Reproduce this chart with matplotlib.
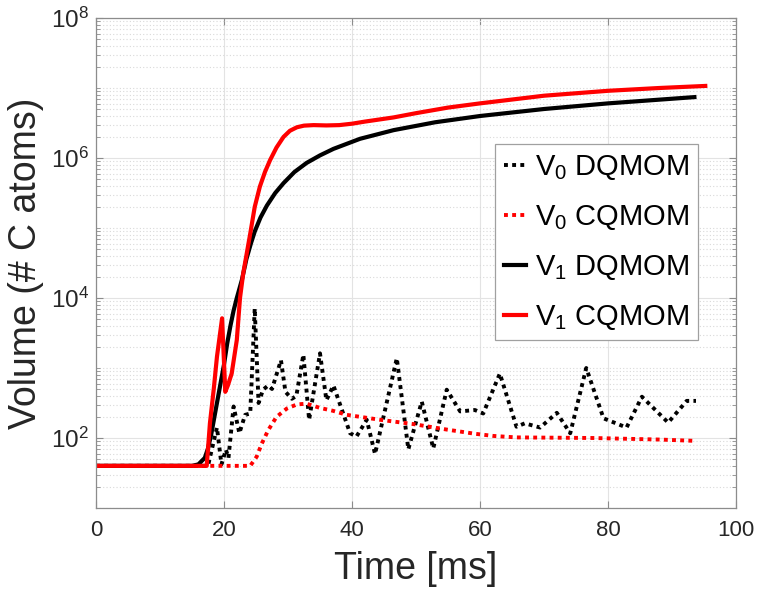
import numpy as np
import matplotlib
matplotlib.use("Agg")
import matplotlib.pyplot as plt
from matplotlib.ticker import LogLocator, FixedLocator, NullFormatter, LogFormatterMathtext

plt.rcParams['font.family'] = ['Liberation Sans', 'DejaVu Sans']
plt.rcParams['mathtext.fontset'] = 'custom'
plt.rcParams['mathtext.rm'] = 'Liberation Sans'
plt.rcParams['mathtext.it'] = 'Liberation Sans:italic'
plt.rcParams['mathtext.default'] = 'regular'

# ---- data ----
# V0 DQMOM (black dotted)
t_v0_dq = [0, 17.5, 18.9, 19.6, 20.3, 20.7, 21.5, 22.4, 23.3, 24.1, 24.8, 25.4, 26.1, 26.9,
           27.5, 28.9, 29.6, 30.6, 31.3, 32.4, 33.3, 35.0, 36.0, 37.1, 39.7, 40.7, 42.3,
           43.6, 47.0, 48.8, 50.9, 52.7, 54.8, 56.9, 59.2, 60.5, 63.1, 65.7, 67.0, 69.4,
           72.0, 74.1, 76.6, 79.3, 82.9, 85.3, 89.4, 92.3, 93.75]
v0_dq = [40, 40, 141, 42, 68, 52, 282, 117, 214, 224, 7080, 316, 490, 562,
         501, 1290, 457, 363, 398, 1550, 182, 1620, 347, 562, 117, 105, 182,
         59, 1380, 69, 331, 71, 490, 240, 251, 224, 832, 145, 162, 141,
         229, 117, 1000, 191, 141, 389, 166, 339, 339]

# V0 CQMOM (red dotted)
t_v0_cq = [0, 24.1, 25.1, 25.9, 26.9, 28.2, 29.8, 31.4, 32.9, 35.0, 37.0, 39.2, 44.4,
           49.6, 54.8, 59.2, 62.1, 65.7, 77.7, 88.1, 93.6]
v0_cq = [40, 40, 54, 83, 129, 200, 263, 302, 309, 269, 245, 214, 182,
         158, 132, 115, 107, 102, 100, 95, 91]

# V1 DQMOM (black solid)
t_v1_dq = [0, 15, 16, 17, 17.5, 18, 18.5, 19, 19.5, 20, 20.5, 21, 21.5, 22, 22.8, 23.5,
           24.2, 24.8, 25.7, 26.7, 28, 29.3, 31, 32.9, 35, 37.1, 41.25, 46.5, 53, 60,
           70, 80, 93.5]
v1_dq = [40, 40, 42, 52, 71, 112, 200, 355, 631, 1120, 2240, 3980, 6610, 10000, 18200, 36000,
         60000, 89000, 141000, 209000, 316000, 437000, 630000, 850000, 1.09e6, 1.35e6,
         1.88e6, 2.5e6, 3.24e6, 3.98e6, 5.01e6, 6.03e6, 7.41e6]

# V1 CQMOM (red solid)
t_v1_cq = [0, 17.3, 17.8, 18.4, 18.9, 19.7, 20.2, 20.6, 21.2, 22, 22.5, 23, 24.1, 24.8,
           25.6, 26.4, 27.2, 28.2, 29.3, 30.3, 31.4, 32.5, 34, 36, 38, 40, 42, 46.5, 50,
           55, 60, 70, 80, 88, 95.2]
v1_cq = [40, 40, 162, 501, 1450, 5130, 457, 562, 832, 2510, 10000, 22400, 83200, 200000,
         389000, 631000, 933000, 1.41e6, 2.0e6, 2.45e6, 2.75e6, 2.9e6, 2.95e6, 2.92e6,
         2.95e6, 3.09e6, 3.31e6, 3.8e6, 4.37e6, 5.25e6, 6.03e6, 7.76e6, 9.12e6, 1.0e7, 1.07e7]

labels = ['V$_0$ DQMOM', 'V$_0$ CQMOM', 'V$_1$ DQMOM', 'V$_1$ CQMOM']

# ---- figure ----
fig = plt.figure(figsize=(7.6, 5.92), dpi=100)
ax = fig.add_axes([96/760, 1 - 508/592, 640/760, 490/592])

dot = (0, (1, 1.1))
ax.plot(t_v0_dq, v0_dq, color='k', lw=2.8, ls=dot, dash_capstyle='butt', label=labels[0])
ax.plot(t_v0_cq, v0_cq, color='#ff0000', lw=2.8, ls=dot, dash_capstyle='butt', label=labels[1])
ax.plot(t_v1_dq, v1_dq, color='k', lw=3, label=labels[2])
ax.plot(t_v1_cq, v1_cq, color='#ff0000', lw=3, label=labels[3])

ax.set_yscale('log')
ax.set_xlim(0, 100)
ax.set_ylim(1e1, 1e8)
ax.set_xticks([0, 20, 40, 60, 80, 100])
ax.yaxis.set_major_locator(FixedLocator([1e2, 1e4, 1e6, 1e8]))
ax.yaxis.set_major_formatter(LogFormatterMathtext())
ax.yaxis.set_minor_locator(LogLocator(base=10, subs=np.arange(1, 10), numticks=20))
ax.yaxis.set_minor_formatter(NullFormatter())

ax.grid(True, which='major', axis='both', color='#e3e3e3', lw=0.8, ls='-')
ax.grid(True, which='minor', axis='y', color='#d9d9d9', lw=0.8, ls=(0, (1, 2)))
ax.set_axisbelow(True)

tick_color = '#262626'
ax.tick_params(which='both', direction='in', top=True, right=True, colors='#8c8c8c',
               labelcolor=tick_color)
ax.tick_params(axis='x', which='major', labelsize=16, pad=9)
ax.tick_params(axis='y', which='major', labelsize=17.5, pad=5)
ax.tick_params(which='major', length=5, width=0.8)
ax.tick_params(which='minor', length=3, width=0.6)
for s in ax.spines.values():
    s.set_color('#8c8c8c')
    s.set_linewidth(0.9)

ax.set_xlabel('Time [ms]', fontsize=27, color=tick_color)
ax.set_ylabel('Volume (# C atoms)', fontsize=27, color=tick_color)
ax.xaxis.set_label_coords(0.5, -0.088)
ax.yaxis.set_label_coords(-0.081, 0.5)

leg = ax.legend(loc='upper left', bbox_to_anchor=(0.6234, 0.7429), fontsize=21,
                handlelength=0.78, handletextpad=0.28, borderpad=0.3, labelspacing=0.72,
                borderaxespad=0, fancybox=False, framealpha=1, edgecolor='#a0a0a0')
leg.get_frame().set_linewidth(0.9)

fig.savefig('out.png', dpi=100, facecolor='white')
